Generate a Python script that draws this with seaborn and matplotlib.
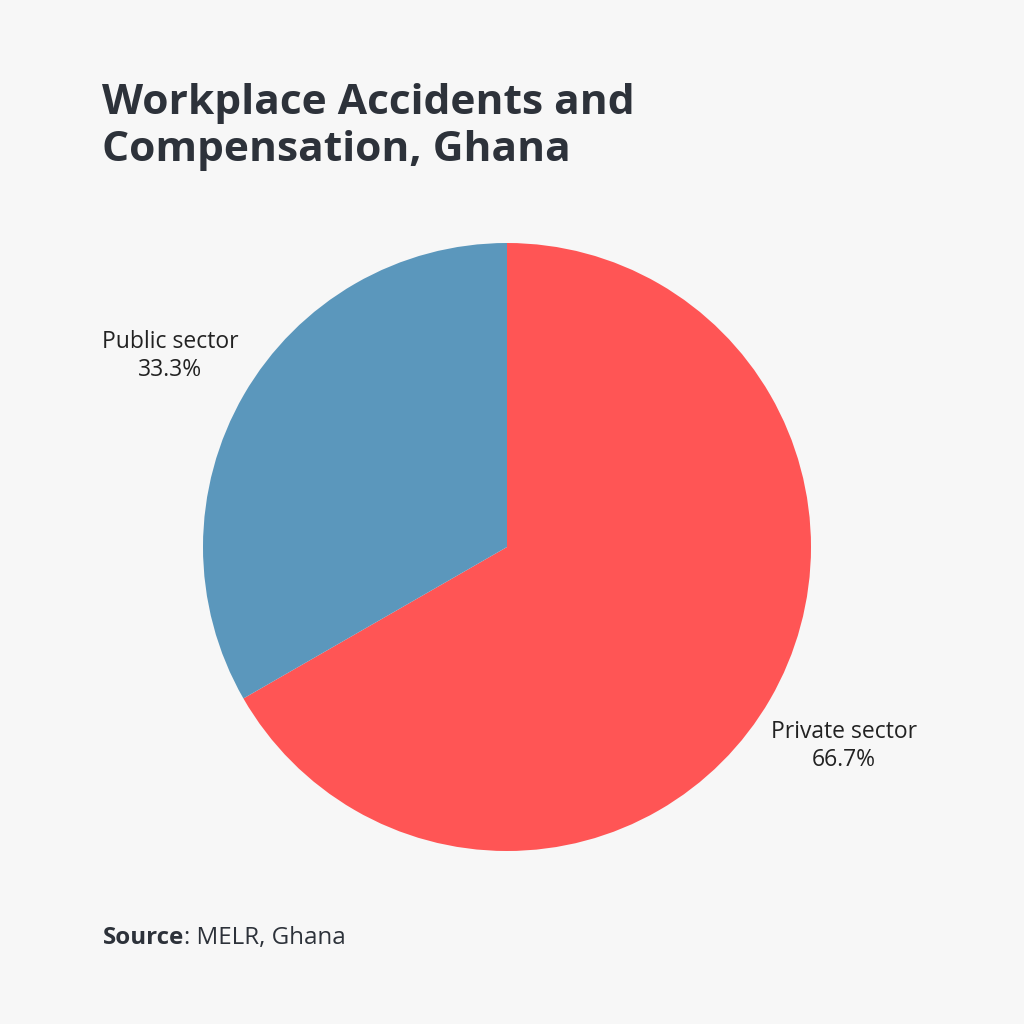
import matplotlib
matplotlib.use("Agg")
import matplotlib.pyplot as plt
import matplotlib.transforms as mtransforms
import seaborn as sns

categories = ["Private sector", "Public sector"]
values = [66.7, 33.3]
colors = ["#ff5555", "#5b97bc"]

sns.set_theme(style="white")
plt.rcParams['font.family'] = ['Open Sans', 'DejaVu Sans']

bg = "#f7f7f7"
txt = "#2d323a"

fig = plt.figure(figsize=(10.24, 10.24), dpi=100, facecolor=bg)
cx, cy, r = 507 / 1024, 1 - 547 / 1024, 304 / 1024
ax = fig.add_axes([cx - r, cy - r, 2 * r, 2 * r])
ax.set_facecolor(bg)

labels = [f"{c}\n{v:.1f}%" for c, v in zip(categories, values)]
wedges, texts = ax.pie(values, labels=labels, colors=colors, startangle=90,
                       counterclock=False, labeldistance=1.28, radius=1,
                       wedgeprops=dict(linewidth=0),
                       textprops=dict(fontsize=16.5, color="#222222"))
for t in texts:
    t.set_ha("center")
    t.set_va("center")
    t.set_linespacing(1.25)
    t.set_transform(mtransforms.offset_copy(t.get_transform(), fig=fig, y=-4, units="dots"))
ax.set_xlim(-1, 1)
ax.set_ylim(-1, 1)
ax.set_aspect("equal")

fig.text(102 / 1024, 1 - 83 / 1024, "Workplace Accidents and\nCompensation, Ghana",
         fontsize=30.6, fontweight="bold", color=txt, ha="left", va="top", linespacing=1.2)

t1 = fig.text(103 / 1024, 1 - 938 / 1024, "Source", fontsize=17.4, fontweight="bold",
              color=txt, ha="left", va="center")
ax.annotate(": MELR, Ghana", xy=(1, 0.5), xycoords=t1, fontsize=17.4,
            color=txt, ha="left", va="center", annotation_clip=False)

fig.savefig("out.png", dpi=100, facecolor=bg)
